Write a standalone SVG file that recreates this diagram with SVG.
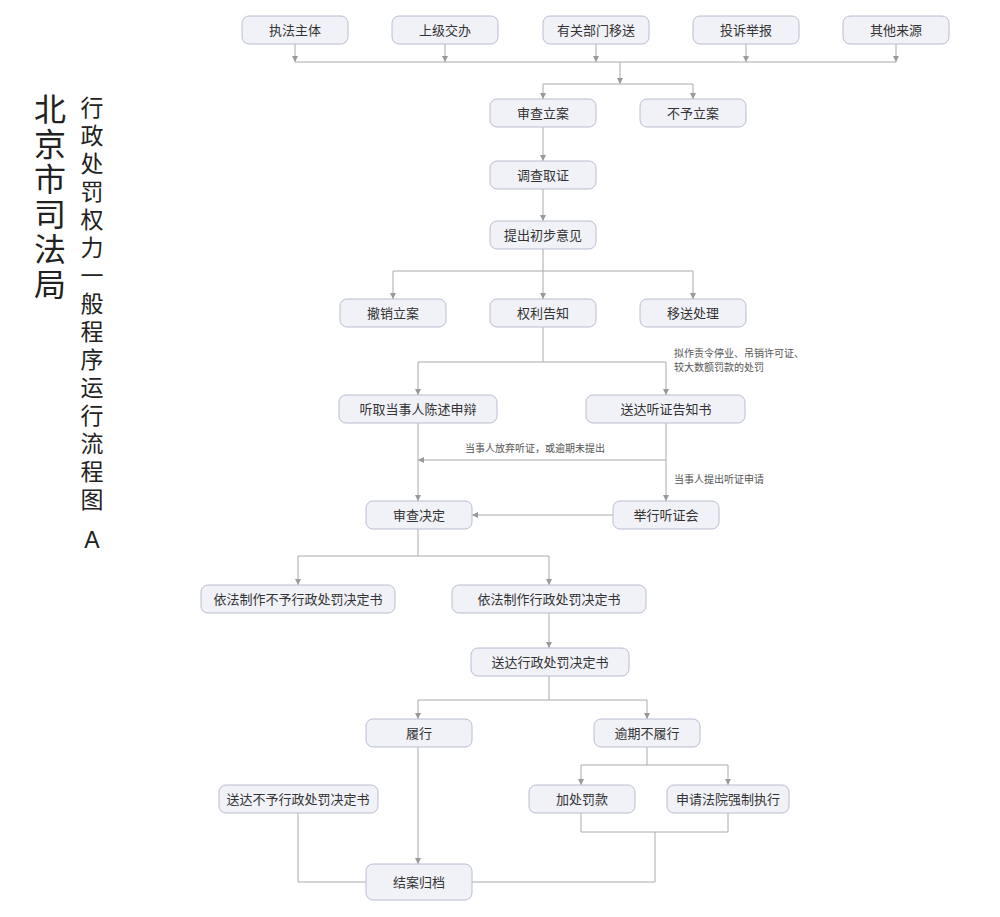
<svg xmlns="http://www.w3.org/2000/svg" width="1000" height="917" viewBox="0 0 1000 917">
<style>
.n rect{fill:#f1f2f8;stroke:#b9bdd0;stroke-width:1}
.n text,.lb{font-family:"Noto Sans CJK SC",sans-serif;font-size:13px;fill:#333;text-anchor:middle}
.lb{font-size:10px;fill:#555;text-anchor:start}
.c path{fill:none;stroke:#aaa;stroke-width:1}
.t{font-family:"Noto Sans CJK SC",sans-serif;fill:#222;text-anchor:middle}
</style>
<defs><marker id="a" markerWidth="8" markerHeight="8" refX="6" refY="3" orient="auto" markerUnits="userSpaceOnUse"><path d="M0,0L6,3L0,6z" fill="#999"/></marker></defs>
<rect width="1000" height="917" fill="#fff"/>
<g class="t" font-size="32">
<text x="50" y="121">北</text><text x="50" y="156">京</text><text x="50" y="191">市</text><text x="50" y="226">司</text><text x="50" y="261">法</text><text x="50" y="296">局</text>
</g>
<g class="t" font-size="23">
<text x="92" y="116">行</text><text x="92" y="144">政</text><text x="92" y="172">处</text><text x="92" y="200">罚</text><text x="92" y="228">权</text><text x="92" y="256">力</text><text x="92" y="284">一</text><text x="92" y="312">般</text><text x="92" y="340">程</text><text x="92" y="368">序</text><text x="92" y="396">运</text><text x="92" y="424">行</text><text x="92" y="452">流</text><text x="92" y="480">程</text><text x="92" y="508">图</text><text x="92" y="548" font-family="Liberation Sans,sans-serif">A</text>
</g>
<g class="c">
<path d="M295,44V62" marker-end="url(#a)"/><path d="M445,44V62" marker-end="url(#a)"/><path d="M596,44V62" marker-end="url(#a)"/><path d="M746,44V62" marker-end="url(#a)"/><path d="M896,44V62" marker-end="url(#a)"/>
<path d="M295,62H896"/>
<path d="M620,62V84" marker-end="url(#a)"/>
<path d="M543,84H693"/>
<path d="M543,84V99" marker-end="url(#a)"/><path d="M693,84V99" marker-end="url(#a)"/>
<path d="M543,127V161" marker-end="url(#a)"/><path d="M543,189V221" marker-end="url(#a)"/>
<path d="M543,249V299" marker-end="url(#a)"/><path d="M393,271H693"/><path d="M393,271V299" marker-end="url(#a)"/><path d="M693,271V299" marker-end="url(#a)"/>
<path d="M543,327V362"/><path d="M418,362H666"/><path d="M418,362V395" marker-end="url(#a)"/><path d="M666,362V395" marker-end="url(#a)"/>
<path d="M418,423V501" marker-end="url(#a)"/><path d="M666,423V501" marker-end="url(#a)"/>
<path d="M666,460H418" marker-end="url(#a)"/>
<path d="M613,515H472" marker-end="url(#a)"/>
<path d="M418,529V556"/><path d="M298,556H549"/><path d="M298,556V585" marker-end="url(#a)"/><path d="M549,556V585" marker-end="url(#a)"/>
<path d="M549,613V648" marker-end="url(#a)"/>
<path d="M549,676V700"/><path d="M418,700H647"/><path d="M418,700V719" marker-end="url(#a)"/><path d="M647,700V719" marker-end="url(#a)"/>
<path d="M647,747V765"/><path d="M581,765H728"/><path d="M581,765V785" marker-end="url(#a)"/><path d="M728,765V785" marker-end="url(#a)"/>
<path d="M418,747V864" marker-end="url(#a)"/>
<path d="M298,813V882H366"/>
<path d="M581,813V832H728V813"/><path d="M655,832V882H472"/>
</g>
<g class="n" id="n1"><rect x="242" y="16" width="106" height="28" rx="7"/><text x="295" y="35">执法主体</text></g>
<g class="n" id="n2"><rect x="392" y="16" width="106" height="28" rx="7"/><text x="445" y="35">上级交办</text></g>
<g class="n" id="n3"><rect x="543" y="16" width="106" height="28" rx="7"/><text x="596" y="35">有关部门移送</text></g>
<g class="n" id="n4"><rect x="693" y="16" width="106" height="28" rx="7"/><text x="746" y="35">投诉举报</text></g>
<g class="n" id="n5"><rect x="843" y="16" width="106" height="28" rx="7"/><text x="896" y="35">其他来源</text></g>
<g class="n" id="n6"><rect x="490" y="99" width="106" height="28" rx="7"/><text x="543" y="118">审查立案</text></g>
<g class="n" id="n7"><rect x="640" y="99" width="106" height="28" rx="7"/><text x="693" y="118">不予立案</text></g>
<g class="n" id="n8"><rect x="490" y="161" width="106" height="28" rx="7"/><text x="543" y="180">调查取证</text></g>
<g class="n" id="n9"><rect x="490" y="221" width="106" height="28" rx="7"/><text x="543" y="240">提出初步意见</text></g>
<g class="n" id="n10"><rect x="340" y="299" width="106" height="28" rx="7"/><text x="393" y="318">撤销立案</text></g>
<g class="n" id="n11"><rect x="490" y="299" width="106" height="28" rx="7"/><text x="543" y="318">权利告知</text></g>
<g class="n" id="n12"><rect x="640" y="299" width="106" height="28" rx="7"/><text x="693" y="318">移送处理</text></g>
<g class="n" id="n13"><rect x="339" y="395" width="158" height="28" rx="7"/><text x="418" y="414">听取当事人陈述申辩</text></g>
<g class="n" id="n14"><rect x="586" y="395" width="159" height="28" rx="7"/><text x="666" y="414">送达听证告知书</text></g>
<g class="n" id="n15"><rect x="366" y="501" width="106" height="28" rx="7"/><text x="419" y="520">审查决定</text></g>
<g class="n" id="n16"><rect x="613" y="501" width="106" height="28" rx="7"/><text x="666" y="520">举行听证会</text></g>
<g class="n" id="n17"><rect x="201" y="585" width="194" height="28" rx="7"/><text x="298" y="604">依法制作不予行政处罚决定书</text></g>
<g class="n" id="n18"><rect x="452" y="585" width="194" height="28" rx="7"/><text x="549" y="604">依法制作行政处罚决定书</text></g>
<g class="n" id="n19"><rect x="471" y="648" width="158" height="28" rx="7"/><text x="550" y="667">送达行政处罚决定书</text></g>
<g class="n" id="n20"><rect x="366" y="719" width="106" height="28" rx="7"/><text x="419" y="738">履行</text></g>
<g class="n" id="n21"><rect x="594" y="719" width="106" height="28" rx="7"/><text x="647" y="738">逾期不履行</text></g>
<g class="n" id="n22"><rect x="219" y="785" width="159" height="28" rx="7"/><text x="298" y="804">送达不予行政处罚决定书</text></g>
<g class="n" id="n23"><rect x="529" y="785" width="106" height="28" rx="7"/><text x="582" y="804">加处罚款</text></g>
<g class="n" id="n24"><rect x="667" y="785" width="122" height="28" rx="7"/><text x="728" y="804">申请法院强制执行</text></g>
<g class="n" id="n25"><rect x="366" y="864" width="106" height="36" rx="7"/><text x="419" y="887">结案归档</text></g>
<text class="lb" x="674" y="357">拟作责令停业、吊销许可证、</text>
<text class="lb" x="674" y="371">较大数额罚款的处罚</text>
<text class="lb" x="465" y="452">当事人放弃听证，或逾期未提出</text>
<text class="lb" x="674" y="483">当事人提出听证申请</text>
</svg>
